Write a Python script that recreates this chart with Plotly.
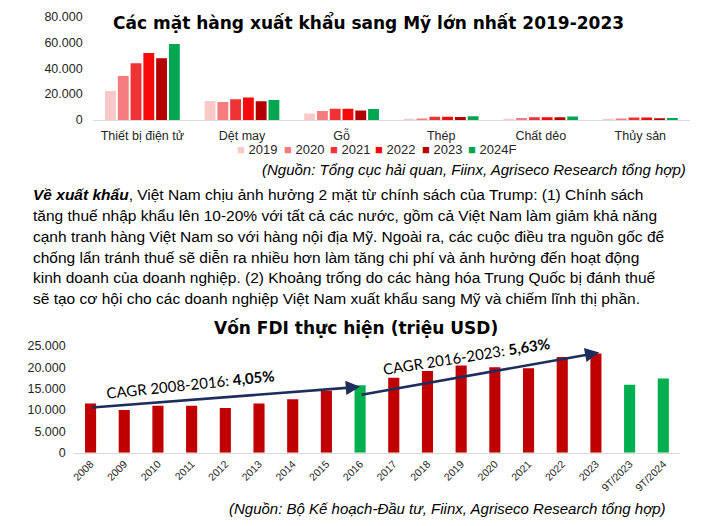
import plotly.graph_objects as go

# ---------------- Data: chart 1 (exports to US) ----------------
export_categories = ["Thiết bị điện tử", "Dệt may", "Gỗ", "Thép", "Chất dẻo", "Thủy sản"]
export_years = ["2019", "2020", "2021", "2022", "2023", "2024F"]
export_2019 = [22400, 14600, 4900, 600, 500, 400]
export_2020 = [34000, 13900, 6900, 1100, 1400, 1100]
export_2021 = [44000, 16100, 8700, 2400, 2000, 1800]
export_2022 = [51900, 17400, 8700, 2400, 2100, 1800]
export_2023 = [47900, 14400, 7200, 2200, 2000, 1300]
export_2024F = [58900, 15400, 8500, 2900, 2600, 1400]
export_ticks = [0, 20000, 40000, 60000, 80000]

# ---------------- Data: chart 2 (FDI disbursed) ----------------
fdi_periods = ["2008", "2009", "2010", "2011", "2012", "2013", "2014", "2015", "2016",
               "2017", "2018", "2019", "2020", "2021", "2022", "2023", "9T/2023", "9T/2024"]
fdi_values = [11500, 10000, 11000, 11000, 10460, 11500, 12500, 14500, 15800,
              17500, 19100, 20380, 19980, 19740, 22400, 23180, 15910, 17340]
fdi_highlight = ["2016", "9T/2023", "9T/2024"]
fdi_ticks = [0, 5000, 10000, 15000, 20000, 25000]
cagr_labels = ["CAGR 2008-2016: <b>4,05%</b>", "CAGR 2016-2023: <b>5,63%</b>"]

paragraph_lines = [
    "<b><i>Về xuất khẩu</i></b>, Việt Nam chịu ảnh hưởng 2 mặt từ chính sách của Trump: (1) Chính sách",
    "tăng thuế nhập khẩu lên 10-20% với tất cả các nước, gồm cả Việt Nam làm giảm khả năng",
    "cạnh tranh hàng Việt Nam so với hàng nội địa Mỹ. Ngoài ra, các cuộc điều tra nguồn gốc để",
    "chống lẩn tránh thuế sẽ diễn ra nhiều hơn làm tăng chi phí và ảnh hưởng đến hoạt động",
    "kinh doanh của doanh nghiệp. (2) Khoảng trống do các hàng hóa Trung Quốc bị đánh thuế",
    "sẽ tạo cơ hội cho các doanh nghiệp Việt Nam xuất khẩu sang Mỹ và chiếm lĩnh thị phần.",
]

# ---------------- Styling ----------------
W, H = 718, 526
FONT = "Liberation Sans"
year_colors = ["#F9C9CA", "#F47B7E", "#EE3235", "#F50A0A", "#B50000", "#00A651"]
RED, GREEN = "#C00000", "#00B050"
ARROW = "#1F2D5C"


def px(x):
    return x / W


def py(y):
    return 1 - y / H


fig = go.Figure()

series = [export_2019, export_2020, export_2021, export_2022, export_2023, export_2024F]
for name, vals, col in zip(export_years, series, year_colors):
    fig.add_trace(go.Bar(x=export_categories, y=vals, name=name, marker_color=col,
                         marker_line_width=0, xaxis="x", yaxis="y",
                         hovertemplate="%{x} " + name + ": %{y:,d}<extra></extra>"))

fdi_colors = [GREEN if p in fdi_highlight else RED for p in fdi_periods]
fig.add_trace(go.Bar(x=fdi_periods, y=fdi_values, marker_color=fdi_colors,
                     marker_line_width=0, width=0.33, xaxis="x2", yaxis="y2",
                     showlegend=False))

annotations = []
# Titles
annotations.append(dict(text="<b>Các mặt hàng xuất khẩu sang Mỹ lớn nhất 2019-2023</b>",
                        x=px(367), y=py(16), xref="paper", yref="paper", showarrow=False,
                        xanchor="center", yanchor="middle",
                        font=dict(family="DejaVu Sans", size=17, color="#000000")))
annotations.append(dict(text="<b>Vốn FDI thực hiện (triệu USD)</b>",
                        x=px(354), y=py(330), xref="paper", yref="paper", showarrow=False,
                        xanchor="center", yanchor="middle",
                        font=dict(family="DejaVu Sans", size=17, color="#000000")))
# Custom legend for chart 1
legend_x = [233, 280, 326, 372, 419, 465]
for name, col, lx in zip(export_years, year_colors, legend_x):
    annotations.append(dict(text=f'<span style="color:{col}">■</span> {name}',
                            x=px(lx), y=py(146), xref="paper", yref="paper", showarrow=False,
                            xanchor="left", yanchor="middle",
                            font=dict(family=FONT, size=13, color="#262626")))
# Sources
annotations.append(dict(text="<i>(Nguồn: Tổng cục hải quan, Fiinx, Agriseco Research tổng hợp)</i>",
                        x=px(688), y=py(167), xref="paper", yref="paper", showarrow=False,
                        xanchor="right", yanchor="middle",
                        font=dict(family=FONT, size=15, color="#000000")))
annotations.append(dict(text="<i>(Nguồn: Bộ Kế hoạch-Đầu tư, Fiinx, Agriseco Research tổng hợp)</i>",
                        x=px(668), y=py(515), xref="paper", yref="paper", showarrow=False,
                        xanchor="right", yanchor="middle",
                        font=dict(family=FONT, size=15, color="#000000")))
# Paragraph
for i, line in enumerate(paragraph_lines):
    annotations.append(dict(text=line, x=px(28), y=py(193 + 21.3 * i), xref="paper", yref="paper",
                            showarrow=False, xanchor="left", yanchor="middle",
                            font=dict(family=FONT, size=15.5, color="#000000")))

# CAGR arrows (tail -> head in data coordinates of chart 2)
arrows = [((0, 10550), (8, 15400)), ((8, 13500), (15.1, 23400))]
for (tx, ty), (hx, hy) in arrows:
    annotations.append(dict(x=hx, y=hy, ax=tx, ay=ty, xref="x2", yref="y2", axref="x2", ayref="y2",
                            text="", showarrow=True, arrowhead=2, arrowsize=1.1, arrowwidth=2.6,
                            arrowcolor=ARROW, standoff=0, startstandoff=0))
cagr_pos = [(2.96, 16050, -6), (11.15, 22500, -9)]
for lab, (cx, cy, ang) in zip(cagr_labels, cagr_pos):
    annotations.append(dict(text=lab, x=cx, y=cy, xref="x2", yref="y2", showarrow=False,
                            textangle=ang, xanchor="center", yanchor="middle",
                            font=dict(family="Lato", size=15, color="#000000")))

fig.update_layout(
    width=W, height=H, margin=dict(l=0, r=0, t=0, b=0),
    paper_bgcolor="white", plot_bgcolor="white",
    barmode="group", bargap=0.23, bargroupgap=0.15,
    showlegend=False, separators=",.",
    font=dict(family=FONT, size=12, color="#262626"),
    xaxis=dict(domain=[px(90), px(690)], anchor="y", showline=True, linecolor="#D9D9D9",
               linewidth=1, ticks="", showgrid=False, zeroline=False,
               tickfont=dict(size=12.5, color="#262626"), ticklabelstandoff=4),
    yaxis=dict(domain=[py(116), py(10)], anchor="x", range=[0, 80000], tickvals=export_ticks,
               tickformat=",d", showgrid=False, zeroline=False, showline=False, ticks="",
               tickfont=dict(size=12.5, color="#262626"), ticklabelstandoff=9),
    xaxis2=dict(domain=[px(71), px(680)], anchor="y2", showline=True, linecolor="#D9D9D9",
                linewidth=1, ticks="", showgrid=False, zeroline=False, tickangle=-45,
                tickfont=dict(size=10.5, color="#262626"), type="category"),
    yaxis2=dict(domain=[py(458), py(348)], anchor="x2", range=[0, 25000], tickvals=fdi_ticks,
                tickformat=",d", showgrid=False, zeroline=False, showline=False, ticks="",
                tickfont=dict(size=12.5, color="#262626"), ticklabelstandoff=7),
    annotations=annotations,
)

fig.write_html("out.html")
